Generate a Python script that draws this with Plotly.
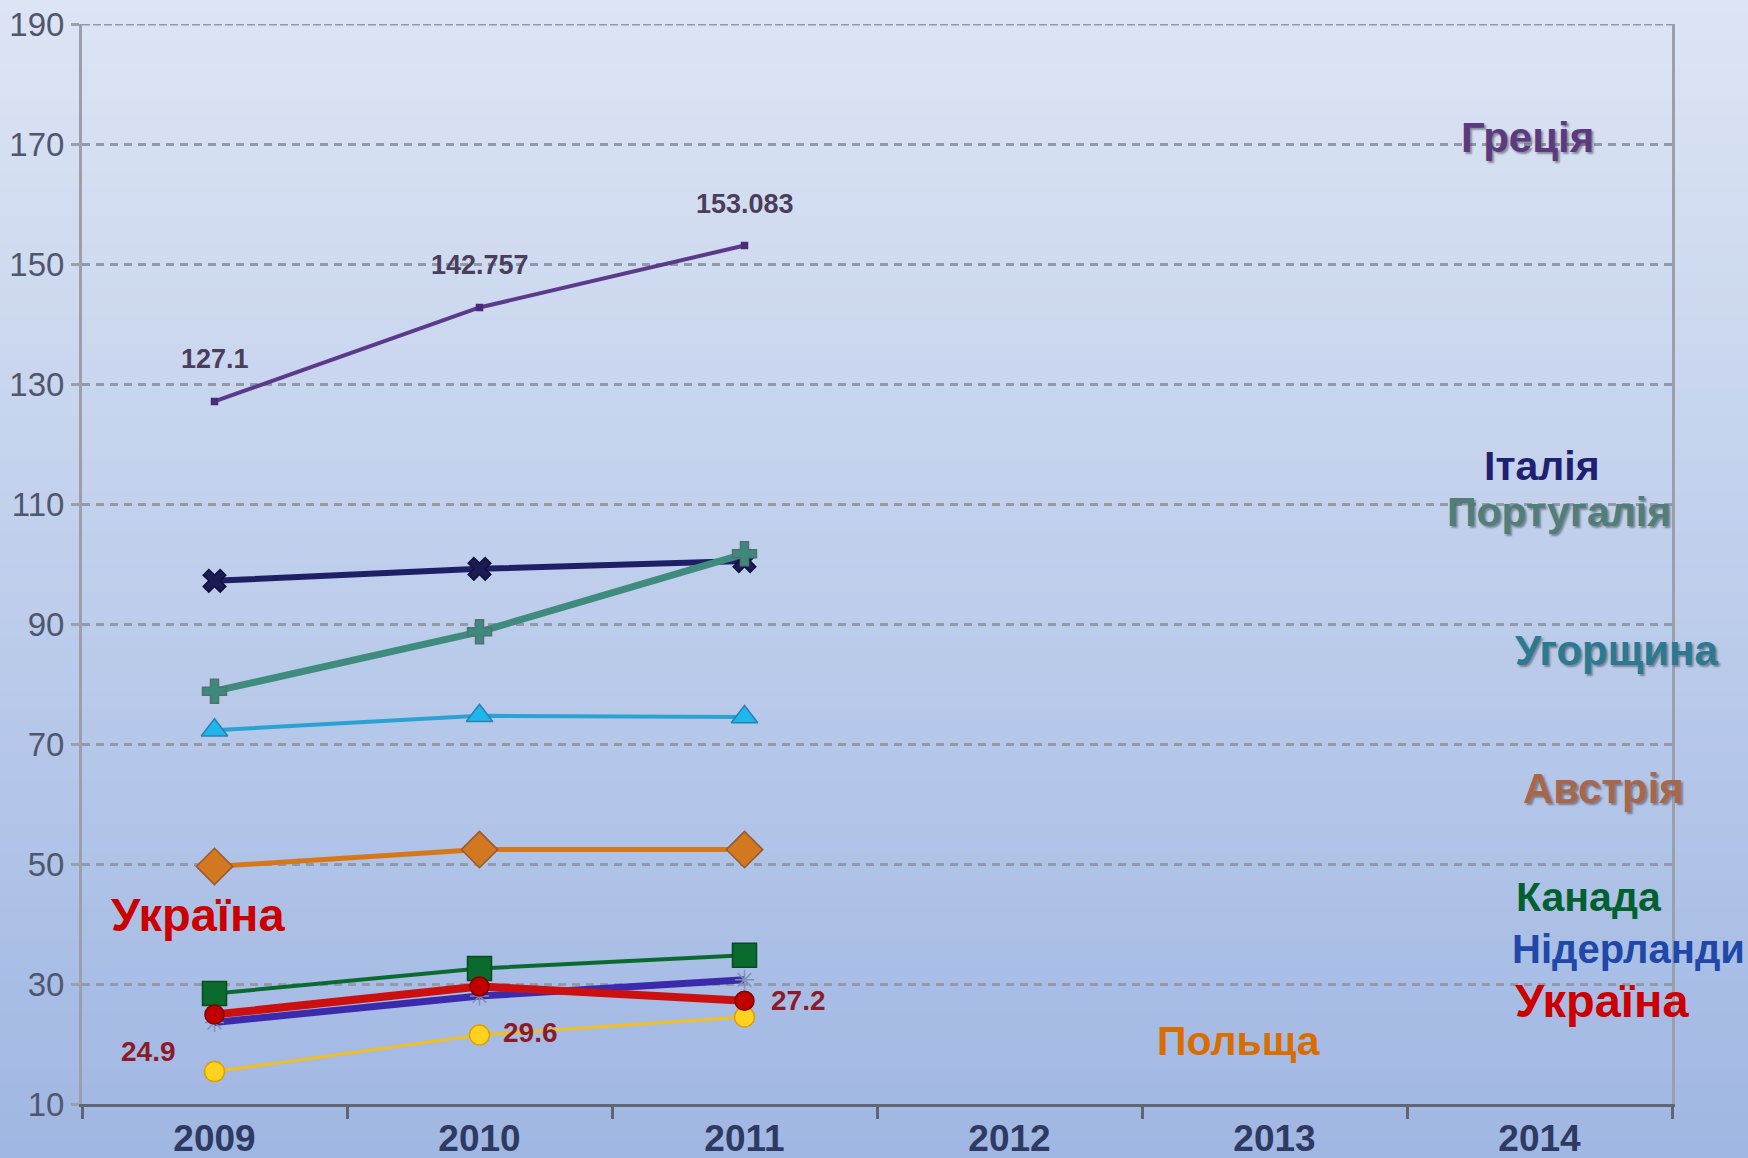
import plotly.graph_objects as go

# ---------------- data ----------------
years = ["2009", "2010", "2011", "2012", "2013", "2014"]
data_years = ["2009", "2010", "2011"]

greece = [127.1, 142.757, 153.083]
italy = [97.2, 99.2, 100.5]
portugal = [78.8, 88.7, 101.7]
hungary = [72.3, 74.7, 74.5]
austria = [49.6, 52.4, 52.4]
canada = [28.4, 32.6, 34.8]
netherlands = [23.6, 28.0, 30.7]
poland = [15.4, 21.5, 24.5]
ukraine = [24.9, 29.6, 27.2]

y_ticks = [10, 30, 50, 70, 90, 110, 130, 150, 170, 190]

country_names = ["Греція", "Італія", "Португалія", "Угорщина", "Австрія",
                 "Канада", "Нідерланди", "Україна", "Польща", "Україна"]

# ---------------- styles ----------------
W, H = 1748, 1158
ML, MR, MT, MB = 82, 76, 24, 54
PW, PH = W - ML - MR, H - MT - MB

FONT = "Liberation Sans, Arial, sans-serif"

fig = go.Figure()

# background gradient (paper-level stripes)
top_rgb = (0xDD, 0xE5, 0xF4)
bot_rgb = (0xA0, 0xB7, 0xE3)
n_stripes = 80
y_lo = -MB / PH
y_hi = 1 + MT / PH
for i in range(n_stripes):
    t = i / (n_stripes - 1)
    c = tuple(round(top_rgb[k] + (bot_rgb[k] - top_rgb[k]) * t) for k in range(3))
    y1 = y_hi - (y_hi - y_lo) * i / n_stripes
    y0 = y_hi - (y_hi - y_lo) * (i + 1) / n_stripes
    fig.add_shape(type="rect", xref="paper", yref="paper",
                  x0=-ML / PW - 0.01, x1=1 + MR / PW + 0.01, y0=y0 - 0.002, y1=y1 + 0.002,
                  fillcolor="rgb(%d,%d,%d)" % c, line=dict(width=0), layer="below")

# top border (denser dashed line at the top tick)
fig.add_shape(type="line", xref="paper", yref="y", x0=0, x1=1,
              y0=max(y_ticks), y1=max(y_ticks),
              line=dict(color="#9299a8", width=3, dash="8px,3px"), layer="below")

series = [
    # name, values, line color, width, marker symbol, size, fill, outline
    ("Греція", greece, "#5b3a8c", 4, "square", 6, "#4a2a7a", "#4a2a7a"),
    ("Італія", italy, "#1f1f66", 6, "x", 20, "#1c1c55", "#10103a"),
    ("Португалія", portugal, "#3f8c7e", 7, "cross", 20, "#3d8a7c", "#55706e"),
    ("Угорщина", hungary, "#2aa2d2", 4, "triangle-up", 23, "#1fb6ec", "#2a80b0"),
    ("Австрія", austria, "#d67818", 5, "diamond", 28, "#d27820", "#9a5a30"),
    ("Канада", canada, "#0b6a30", 4, "square", 24, "#0b6b2f", "#0a4a22"),
    ("Нідерланди", netherlands, "#3b2aac", 7, "asterisk-open", 16, "#8090b8", "#8090b8"),
    ("Польща", poland, "#f0c020", 3, "circle", 20, "#ffd21f", "#e0a000"),
    ("Україна", ukraine, "#cc1010", 8, "circle", 19, "#c00000", "#800000"),
]

for name, vals, lc, lw, sym, ms, mfill, mline in series:
    fig.add_trace(go.Scatter(
        x=data_years, y=vals, mode="lines+markers", name=name,
        line=dict(color=lc, width=lw),
        marker=dict(symbol=sym, size=ms, color=mfill,
                    line=dict(color=mline, width=1.5)),
        showlegend=False, hoverinfo="x+y+name"))

# value labels (x as category index)
greece_label_shift = (0, 42)
for xv, yv in zip(data_years, greece):
    fig.add_annotation(x=years.index(xv), y=yv, xref="x", yref="y",
                       text="<b>%s</b>" % ("%g" % yv),
                       showarrow=False, xshift=greece_label_shift[0], yshift=greece_label_shift[1],
                       font=dict(family=FONT, size=27, color="#4b3d5c"))

ukr_shifts = [(-66, -37), (51, -46), (54, 0)]
for (xv, yv), (dx, dy) in zip(zip(data_years, ukraine), ukr_shifts):
    fig.add_annotation(x=years.index(xv), y=yv, xref="x", yref="y",
                       text="<b>%s</b>" % ("%g" % yv),
                       showarrow=False, xshift=dx, yshift=dy,
                       font=dict(family=FONT, size=28, color="#8a1c2a"))

# country name labels
def px2paper(px, py):
    return (px - ML) / PW, (H - MB - py) / PH

name_style = [
    # pixel centre, colour, size, shadow
    ((1527, 137), "#5c3a80", 42, True),
    ((1542, 466), "#1f2070", 41, False),
    ((1559, 512), "#4f7f78", 41, True),
    ((1616, 650), "#2b7a92", 42, True),
    ((1603, 788), "#a8674a", 42, True),
    ((1589, 897), "#006030", 41, False),
    ((1628, 949), "#2048a8", 40, False),
    ((1602, 1000), "#cc0000", 47, False),
    ((1239, 1041), "#d96d00", 41, False),
    ((198, 914), "#cc0000", 47, False),
]
for txt, ((px, py), col, sz, shadow) in zip(country_names, name_style):
    xp, yp = px2paper(px, py)
    f = dict(family=FONT, size=sz, color=col, weight="bold")
    if shadow:
        f["shadow"] = "2px 2px 2px rgba(70,70,80,0.55)"
    fig.add_annotation(x=xp, y=yp, xref="paper", yref="paper", text=txt,
                       showarrow=False, xanchor="center", yanchor="middle", font=f)

fig.update_layout(
    width=W, height=H,
    margin=dict(l=ML, r=MR, t=MT, b=MB, pad=0, autoexpand=False),
    paper_bgcolor="#c0cfec",
    plot_bgcolor="rgba(0,0,0,0)",
    showlegend=False,
)

fig.update_xaxes(
    type="category", categoryorder="array", categoryarray=years,
    tickvals=years, ticktext=years,
    range=[-0.5, 5.5], tickson="boundaries",
    ticks="outside", ticklen=12, tickwidth=3, tickcolor="#5f6575",
    showline=True, linecolor="#5f6575", linewidth=3,
    showgrid=False, zeroline=False, automargin=False,
    tickfont=dict(family=FONT, size=37, color="#2f3a62", weight="bold"),
)

fig.update_yaxes(
    range=[10, 190], tickvals=y_ticks,
    ticks="outside", ticklen=8, tickwidth=3, tickcolor="#9aa0ac",
    showline=True, linecolor="#9a9fab", linewidth=3, mirror=True,
    showgrid=True, gridcolor="#9299a8", gridwidth=3, griddash="8px,6px",
    zeroline=False, automargin=False,
    tickfont=dict(family=FONT, size=33, color="#4f566d"),
)

fig.write_html(
    "out.html",
    config={"displayModeBar": False},
    post_script="document.body.style.margin='0';document.body.style.overflow='hidden';",
)
